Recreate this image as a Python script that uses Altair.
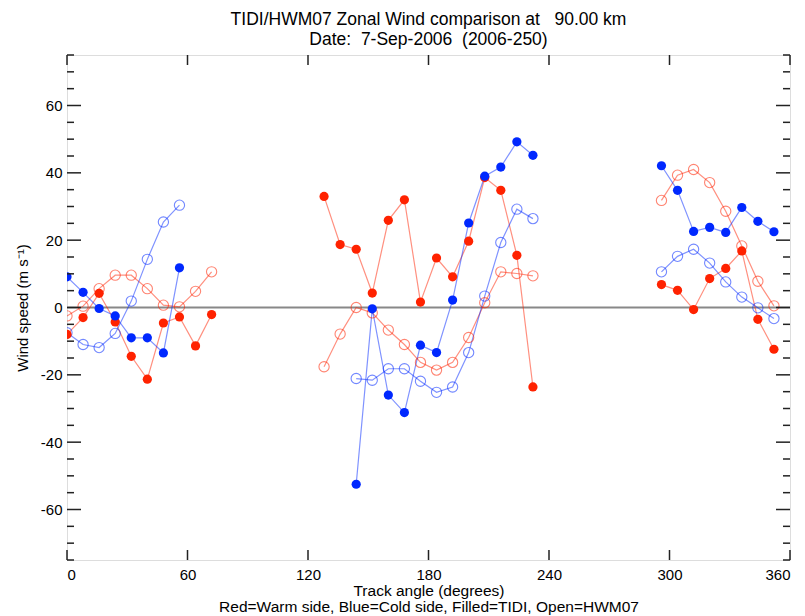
import altair as alt
import pandas as pd

# ---------------- data ----------------
# Left cluster
ang_left_warm = [0, 8, 16, 24, 32, 40, 48, 56, 64, 72]
tidi_left_warm = [-8.0, -3.0, 4.2, -4.3, -14.5, -21.3, -4.6, -2.8, -11.4, -2.1]
hwm_left_warm = [-2.5, 0.4, 5.6, 9.6, 9.6, 5.6, 0.7, 0.2, 4.8, 10.6]
ang_left_cold = [0, 8, 16, 24, 32, 40, 48, 56]
tidi_left_cold = [9.1, 4.5, -0.3, -2.5, -9.0, -9.0, -13.5, 11.8]
hwm_left_cold = [-7.5, -11.0, -11.9, -7.7, 1.9, 14.3, 25.4, 30.4]

# Middle cluster
ang_mid_warm = [128, 136, 144, 152, 160, 168, 176, 184, 192, 200, 208, 216, 224, 232]
tidi_mid_warm = [33.0, 18.7, 17.3, 4.3, 25.9, 32.0, 1.6, 14.7, 9.1, 19.7, 38.6, 34.8, 15.5, -23.6]
hwm_mid_warm = [-17.6, -7.9, 0.0, -1.6, -6.7, -11.0, -16.3, -18.6, -16.3, -8.9, 1.4, 10.6, 10.1, 9.4]
ang_mid_cold = [144, 152, 160, 168, 176, 184, 192, 200, 208, 216, 224, 232]
tidi_mid_cold = [-52.5, -0.4, -26.0, -31.2, -11.2, -13.4, 2.2, 25.1, 39.0, 41.7, 49.2, 45.2]
hwm_mid_cold = [-21.1, -21.6, -18.2, -18.2, -21.9, -25.2, -23.6, -13.4, 3.4, 19.3, 29.2, 26.4]

# Right cluster
ang_right = [296, 304, 312, 320, 328, 336, 344, 352]
tidi_right_warm = [6.8, 5.1, -0.6, 8.6, 11.6, 16.8, -3.5, -12.4]
hwm_right_warm = [31.8, 39.3, 41.0, 37.1, 28.6, 18.3, 7.8, 0.5]
tidi_right_cold = [42.1, 34.8, 22.6, 23.8, 22.3, 29.7, 25.6, 22.5]
hwm_right_cold = [10.6, 15.2, 17.3, 13.2, 7.6, 3.1, -0.1, -3.3]

# axis ticks
x_major = [0, 60, 120, 180, 240, 300, 360]
y_major = [-60, -40, -20, 0, 20, 40, 60]
y_minor = [-75, -70, -65, -55, -50, -45, -35, -30, -25, -15, -10, -5,
           5, 10, 15, 25, 30, 35, 45, 50, 55, 65, 70, 75]

title_lines = ["TIDI/HWM07 Zonal Wind comparison at\u00a0\u00a0\u00a090.00 km",
               "Date:\u00a0\u00a07-Sep-2006\u00a0\u00a0(2006-250)"]
x_title = ["Track angle (degrees)",
           "Red=Warm side, Blue=Cold side, Filled=TIDI, Open=HWM07"]
y_title = "Wind speed (m s\u207b\u00b9)"

# ---------------- build table ----------------
rows = []
def add(seg, side, src, angles, vals):
    for a, v in zip(angles, vals):
        rows.append({"angle": a, "wind": v, "side": side, "source": src,
                     "series": f"{seg}-{side}-{src}"})

add("L", "Warm", "TIDI", ang_left_warm, tidi_left_warm)
add("L", "Warm", "HWM07", ang_left_warm, hwm_left_warm)
add("L", "Cold", "TIDI", ang_left_cold, tidi_left_cold)
add("L", "Cold", "HWM07", ang_left_cold, hwm_left_cold)
add("M", "Warm", "TIDI", ang_mid_warm, tidi_mid_warm)
add("M", "Warm", "HWM07", ang_mid_warm, hwm_mid_warm)
add("M", "Cold", "TIDI", ang_mid_cold, tidi_mid_cold)
add("M", "Cold", "HWM07", ang_mid_cold, hwm_mid_cold)
add("R", "Warm", "TIDI", ang_right, tidi_right_warm)
add("R", "Warm", "HWM07", ang_right, hwm_right_warm)
add("R", "Cold", "TIDI", ang_right, tidi_right_cold)
add("R", "Cold", "HWM07", ang_right, hwm_right_cold)
df = pd.DataFrame(rows)

W, H = 723, 505
FONT = "Liberation Sans"

xs = alt.Scale(domain=[0, 360], nice=False, zero=False)
ys = alt.Scale(domain=[-75, 75], nice=False, zero=False)
col = alt.Scale(domain=["Warm", "Cold"], range=["#ff2200", "#0028ff"])

lab_expr = "datum.value < 0 ? '-' + abs(datum.value) : '' + datum.value"

x_enc = alt.X("angle:Q", scale=xs,
              axis=alt.Axis(values=x_major, ticks=False, domain=False, grid=False,
                            labelFontSize=15, labelPadding=7, labelFont=FONT,
                            labelColor="#000", title=x_title, titleFont=FONT,
                            titleFontSize=15.5, titleFontWeight="normal",
                            titleLineHeight=16, titlePadding=1, titleColor="#000",
                            labelExpr=lab_expr, labelOverlap=False))
y_enc = alt.Y("wind:Q", scale=ys,
              axis=alt.Axis(values=y_major, ticks=False, domain=False, grid=False,
                            labelFontSize=15, labelPadding=5, labelFont=FONT,
                            labelColor="#000", title=y_title, titleFont=FONT,
                            titleFontSize=15, titleFontWeight="normal",
                            titlePadding=10, titleColor="#000",
                            labelExpr=lab_expr))

base = alt.Chart(df)

zero = alt.Chart(pd.DataFrame({"y": [0]})).mark_rule(
    color="#888888", strokeWidth=2).encode(y=alt.Y("y:Q", scale=ys))

lines = base.mark_line(strokeWidth=1.2, opacity=0.5, clip=True).encode(
    x=x_enc, y=y_enc,
    color=alt.Color("side:N", scale=col, legend=None),
    detail="series:N", order="angle:Q")

open_pts = base.transform_filter(alt.datum.source == "HWM07").mark_point(
    shape="circle", filled=False, size=105, strokeWidth=1.1, opacity=0.55,
    clip=True).encode(x="angle:Q", y="wind:Q",
                      color=alt.Color("side:N", scale=col, legend=None))

fill_pts = base.transform_filter(alt.datum.source == "TIDI").mark_circle(
    size=85, opacity=1, clip=True).encode(
    x="angle:Q", y="wind:Q",
    color=alt.Color("side:N", scale=col, legend=None))

# inward frame ticks
ymaj = pd.DataFrame({"v": y_major})
ymin = pd.DataFrame({"v": y_minor})
xtk = pd.DataFrame({"v": x_major})

tick_style = dict(color="#222222", strokeWidth=1.5)
yl_maj = alt.Chart(ymaj).mark_rule(**tick_style).encode(
    y=alt.Y("v:Q", scale=ys), x=alt.value(0), x2=alt.value(14))
yl_min = alt.Chart(ymin).mark_rule(**tick_style).encode(
    y=alt.Y("v:Q", scale=ys), x=alt.value(0), x2=alt.value(7))
yr_maj = alt.Chart(ymaj).mark_rule(**tick_style).encode(
    y=alt.Y("v:Q", scale=ys), x=alt.value(W), x2=alt.value(W - 14))
yr_min = alt.Chart(ymin).mark_rule(**tick_style).encode(
    y=alt.Y("v:Q", scale=ys), x=alt.value(W), x2=alt.value(W - 7))
xt = alt.Chart(xtk).mark_rule(**tick_style).encode(
    x=alt.X("v:Q", scale=xs), y=alt.value(0), y2=alt.value(10))
xb = alt.Chart(xtk).mark_rule(**tick_style).encode(
    x=alt.X("v:Q", scale=xs), y=alt.value(H), y2=alt.value(H - 10))

chart = alt.layer(zero, lines, open_pts, fill_pts,
                  yl_maj, yl_min, yr_maj, yr_min, xt, xb).properties(
    width=W, height=H,
    title=alt.TitleParams(text=title_lines, fontSize=17.5, fontWeight="normal",
                          font=FONT, anchor="middle", lineHeight=20,
                          offset=6, color="#000"),
    autosize=alt.AutoSizeParams(type="none"),
    padding={"left": 67, "top": 55, "right": 15, "bottom": 56},
).configure_view(stroke="#222222", strokeWidth=2).configure(background="white")

chart.save("out.html", embed_options={"renderer": "svg", "actions": False})
